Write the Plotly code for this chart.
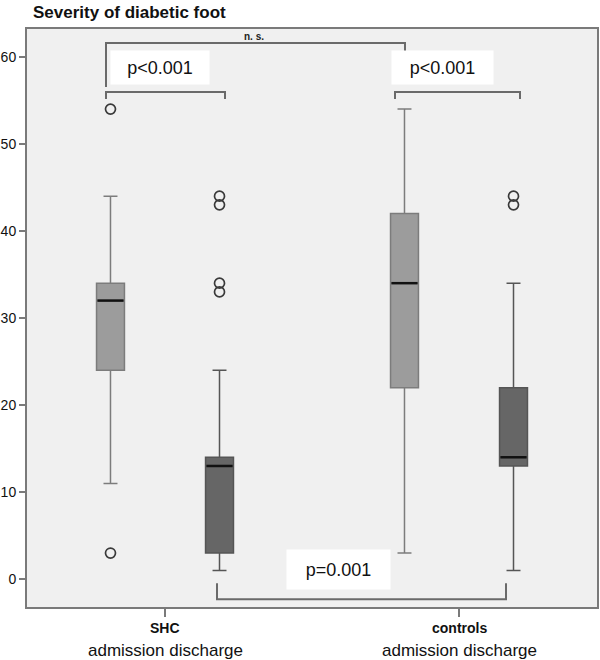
import plotly.graph_objects as go

# ---- data ----
groups = ["SHC", "controls"]
phases = ["admission", "discharge"]
q1 = {"admission": [24, 22], "discharge": [3, 13]}
median = {"admission": [32, 34], "discharge": [13, 14]}
q3 = {"admission": [34, 42], "discharge": [14, 22]}
lowerfence = {"admission": [11, 3], "discharge": [1, 1]}
upperfence = {"admission": [44, 54], "discharge": [24, 34]}
outliers = {
    "admission": [[54, 3], []],
    "discharge": [[33, 34, 43, 44], [43, 44]],
}
fills = {"admission": "#9c9c9c", "discharge": "#666666"}
edges = {"admission": "#7c7c7c", "discharge": "#555555"}

FONT = "Liberation Sans, Arial, sans-serif"
offset = 0.1854
bw = 0.095
group_x = list(range(len(groups)))
phase_off = {"admission": -offset, "discharge": offset}

fig = go.Figure()
mx, my = [], []
for ph in phases:
    xs = [g + phase_off[ph] for g in group_x]
    fig.add_trace(go.Box(
        x=xs, q1=q1[ph], median=median[ph], q3=q3[ph],
        lowerfence=lowerfence[ph], upperfence=upperfence[ph],
        width=bw, whiskerwidth=0.5, boxpoints=False,
        fillcolor=fills[ph], line=dict(color=edges[ph], width=1.5),
        showlegend=False, name=ph,
    ))
    ox, oy = [], []
    for xi, outs in zip(xs, outliers[ph]):
        for v in outs:
            ox.append(xi)
            oy.append(v)
    fig.add_trace(go.Scatter(
        x=ox, y=oy, mode="markers", showlegend=False,
        marker=dict(symbol="circle-open", size=10, color="#3a3a3a",
                    line=dict(width=1.7, color="#3a3a3a")),
    ))
    for xi, m in zip(xs, median[ph]):
        mx += [xi - bw / 2 + 0.003, xi + bw / 2 - 0.003, None]
        my += [m, m, None]

fig.add_trace(go.Scatter(x=mx, y=my, mode="lines", showlegend=False,
                         line=dict(color="#111111", width=2.5)))

# ---- significance brackets ----
LC = "#6a6a6a"
def bracket(x0, x1, y, y0, y1):
    fig.add_shape(type="path",
                  path=f"M {x0} {y0} L {x0} {y} L {x1} {y} L {x1} {y1}",
                  xref="x", yref="y", line=dict(color=LC, width=2))

bracket(-0.2007, 0.8163, 61.59, 56.54, 60.56)   # n.s.
bracket(-0.2007, 0.2041, 55.96, 55.16, 55.16)   # SHC adm vs dis
bracket(0.7823, 1.2075, 55.96, 55.16, 55.16)    # controls adm vs dis
bracket(0.1769, 1.1599, -2.30, -0.46, -0.46)    # discharge SHC vs controls

ann = [
    dict(x=0.3027, y=62.35, text="<b>n. s.</b>", font=dict(size=10, family=FONT, color="#222")),
    dict(x=-0.017, y=58.78, text="p<0.001", bgcolor="white", width=96, height=31,
         font=dict(size=18, family=FONT, color="#111")),
    dict(x=0.9439, y=58.78, text="p<0.001", bgcolor="white", width=99, height=31,
         font=dict(size=18, family=FONT, color="#111")),
    dict(x=0.5901, y=1.09, text="p=0.001", bgcolor="white", width=101, height=37,
         font=dict(size=18, family=FONT, color="#111")),
]
for a in ann:
    fig.add_annotation(xref="x", yref="y", showarrow=False, **a)

# category labels (two lines, different styles)
for g, gx in zip(groups, group_x):
    fig.add_annotation(x=gx, y=-0.0363, xref="x", yref="paper", showarrow=False,
                       yanchor="middle", text=f"<b>{g}</b>",
                       font=dict(size=14, family=FONT, color="#111"))
    fig.add_annotation(x=gx, y=-0.0744, xref="x", yref="paper", showarrow=False,
                       yanchor="middle", text=" ".join(phases),
                       font=dict(size=17, family=FONT, color="#111"))

fig.update_layout(
    width=600, height=660,
    margin=dict(l=27, r=3, t=29, b=53),
    paper_bgcolor="white", plot_bgcolor="#f0f0f0",
    title=dict(text="<b>Severity of diabetic foot</b>", x=33 / 600, xanchor="left",
               y=1 - 12 / 660, yanchor="middle",
               font=dict(size=17, family=FONT, color="#111")),
    font=dict(family=FONT, color="#111"),
)
fig.update_xaxes(range=[-0.4694, 1.4694], tickvals=group_x, ticktext=groups,
                 showticklabels=False, automargin=False,
                 showgrid=False, zeroline=False, showline=True, mirror=True,
                 linecolor="#7a7a7a", linewidth=2, ticks="outside", ticklen=8,
                 tickcolor="#7a7a7a", tickwidth=1.5)
fig.update_yaxes(range=[-3.2, 63.2], tickvals=[0, 10, 20, 30, 40, 50, 60],
                 automargin=False,
                 showgrid=False, zeroline=False, showline=True, mirror=True,
                 linecolor="#7a7a7a", linewidth=2, ticks="outside", ticklen=6,
                 tickcolor="#7a7a7a", tickwidth=1.5,
                 tickfont=dict(size=14, family=FONT, color="#111"),
                 tickprefix="<b>", ticksuffix="</b>")

fig.write_html("out.html", config={"displayModeBar": False},
               post_script="document.body.style.margin='0';document.body.style.overflow='hidden';")
